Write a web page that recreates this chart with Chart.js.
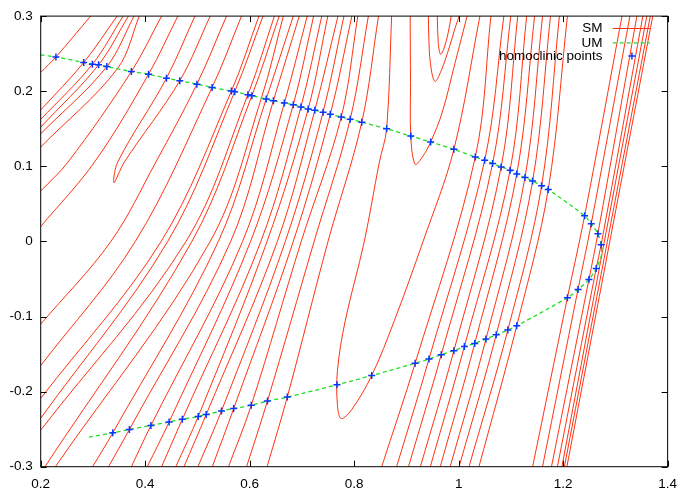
<!DOCTYPE html>
<html>
<head>
<meta charset="utf-8">
<script src="https://cdn.jsdelivr.net/npm/chart.js@4.4.0/dist/chart.umd.min.js"></script>
<style>
html, body { margin: 0; padding: 0; background: #fff; }
canvas { display: block; }
</style>
</head>
<body>
<canvas id="chart" width="686" height="489"></canvas>
<script>
const xTicks = [0.2, 0.4, 0.6, 0.8, 1.0, 1.2, 1.4];
const yTicks = [-0.3, -0.2, -0.1, 0, 0.1, 0.2, 0.3];

// stable manifold pieces, [x, y]
// curves that leave through the left edge (upper part)
const smEdge = [
	[[0.2,0.2249],[0.2291,0.2456],[0.2956,0.3]],
	[[0.2,0.1750],[0.2823,0.2381],[0.3462,0.3]],
	[[0.2,0.1623],[0.2989,0.2359],[0.3578,0.3]],
	[[0.2,0.1521],[0.3108,0.2351],[0.3679,0.3]],
	[[0.2,0.1433],[0.3266,0.2328],[0.3787,0.3]],
	[[0.2,0.1257],[0.3470,0.2302],[0.3888,0.3]],
	[[0.2,0.0671],[0.2525,0.1058],[0.3736,0.2262],[0.4314,0.3]],
	[[0.2,0.0198],[0.3032,0.1058],[0.4065,0.2226],[0.4625,0.3]],
	[[0.2,-0.1102],[0.3344,0],[0.4205,0.1058],[0.4990,0.2094],[0.5557,0.3]]
];

// hairpins and folds
const smFolds = [
	[[0.4952,0.3],[0.4407,0.2173],[0.3475,0.1058],[0.3403,0.0780],[0.3603,0.1058],[0.4662,0.2139],[0.5245,0.3]],
	[[0.9420,0.3],[0.9429,0.2712],[0.9458,0.2381],[0.9544,0.2130],[0.9667,0.2275],[0.9819,0.2579],[0.9933,0.2844],[1.0010,0.3]],
	[[0.9591,0.3],[0.9610,0.2646],[0.9654,0.2491],[0.9724,0.2579],[0.9800,0.2778],[0.9857,0.3]],
	[[0.9072,0.3],[0.9078,0.2116],[0.9084,0.1402],[0.9167,0.1028],[0.9306,0.1124],[0.9464,0.1323],[0.9686,0.1720],[0.9933,0.2381],[1.0162,0.3]],
	[[0.8717,0.3],[0.8622,0.1499],[0.8483,0.1058],[0.8194,0],[0.7829,-0.1058],[0.7680,-0.1720],[0.7680,-0.2183],[0.7753,-0.2359],[0.7956,-0.2236],[0.8336,-0.1786],[0.8768,-0.1058],[0.9319,0],[0.9909,0.1226],[1.0407,0.3]]
];

// the long fan crossing the middle-left
const smLeftFan = [
	[[0.2,-0.1654],[0.3812,0],[0.5281,0.2050],[0.5844,0.3]],
	[[0.2,-0.2090],[0.4306,0],[0.5650,0.2001],[0.6177,0.3]],
	[[0.2,-0.2355],[0.4432,0],[0.5713,0.1993],[0.6255,0.3]],
	[[0.2,-0.2513],[0.4781,0],[0.5966,0.1954],[0.6473,0.3]],
	[[0.2082,-0.3],[0.4895,0],[0.6042,0.1941],[0.6565,0.3]],
	[[0.2281,-0.3],[0.5245,0],[0.6226,0.1911],[0.6644,0.3]],
	[[0.2994,-0.3],[0.3380,-0.2549],[0.5401,0],[0.6316,0.1896],[0.6835,0.3]],
	[[0.3298,-0.3],[0.3698,-0.2504],[0.5637,0],[0.6454,0.1874],[0.6949,0.3]],
	[[0.3736,-0.3],[0.4110,-0.2451],[0.5865,0],[0.6664,0.1843],[0.7101,0.3]],
	[[0.4040,-0.3],[0.4458,-0.2404],[0.6017,0],[0.6835,0.1821],[0.7224,0.3]],
	[[0.4314,-0.3],[0.4711,-0.2368],[0.6215,0],[0.6981,0.1790],[0.7380,0.3]],
	[[0.4586,-0.3],[0.5015,-0.2332],[0.6333,0],[0.7120,0.1763],[0.7496,0.3]],
	[[0.4743,-0.3],[0.5167,-0.2306],[0.6530,0],[0.7247,0.1746],[0.7690,0.3]],
	[[0.5009,-0.3],[0.5460,-0.2258],[0.6682,0],[0.7405,0.1720],[0.7804,0.3]],
	[[0.5285,-0.3],[0.5694,-0.2226],[0.6835,0],[0.7544,0.1693],[0.7956,0.3]],
	[[0.5595,-0.3],[0.6030,-0.2183],[0.6987,0],[0.7753,0.1657],[0.8070,0.3]],
	[[0.5941,-0.3],[0.6340,-0.2126],[0.7234,0],[0.7924,0.1627],[0.8272,0.3]],
	[[0.6333,-0.3],[0.6720,-0.2073],[0.7500,0],[0.8146,0.1587],[0.8466,0.3]]
];

// fan right of the fold
const smRightFan = [
	[[0.8527,-0.3],[0.9167,-0.1623],[1.0319,0.1124],[1.0618,0.3]],
	[[0.8812,-0.3],[0.9433,-0.1565],[1.0498,0.1081],[1.0865,0.3]],
	[[0.9040,-0.3],[0.9667,-0.1508],[1.0650,0.1036],[1.0998,0.3]],
	[[0.9268,-0.3],[0.9909,-0.1455],[1.0814,0.0992],[1.1131,0.3]],
	[[0.9458,-0.3],[1.0110,-0.1398],[1.0985,0.0948],[1.1302,0.3]],
	[[0.9648,-0.3],[1.0308,-0.1358],[1.1112,0.0896],[1.1454,0.3]],
	[[0.9838,-0.3],[1.0523,-0.1300],[1.1270,0.0851],[1.1606,0.3]],
	[[1.0009,-0.3],[1.0719,-0.1243],[1.1416,0.0803],[1.1758,0.3]],
	[[1.0199,-0.3],[1.0941,-0.1181],[1.1588,0.0741],[1.1929,0.3]],
	[[1.0389,-0.3],[1.1112,-0.1124],[1.1715,0.0692],[1.2082,0.3]]
];

// tight bundle on the right
const smRightCluster = [
	[[1.1416,-0.3],[1.2082,-0.0750],[1.2411,0.0340],[1.3127,0.3]],
	[[1.1606,-0.3],[1.2285,-0.0639],[1.2538,0.0234],[1.3279,0.3]],
	[[1.1777,-0.3],[1.2494,-0.0507],[1.2665,0.0102],[1.3412,0.3]],
	[[1.1891,-0.3],[1.2633,-0.0361],[1.2728,-0.0044],[1.3526,0.3]],
	[[1.1977,-0.3],[1.3602,0.3]],
	[[1.2025,-0.3],[1.3669,0.3]],
	[[1.2072,-0.3],[1.3716,0.3]]
];

// unstable manifold
const umCurve = [
	[0.2,0.2483],[0.2291,0.2456],[0.2823,0.2381],[0.2989,0.2359],[0.3108,0.2351],[0.3266,0.2328],
	[0.3736,0.2262],[0.4065,0.2226],[0.4407,0.2173],[0.4662,0.2139],[0.4990,0.2094],[0.5281,0.2050],
	[0.5650,0.2001],[0.5713,0.1993],[0.5966,0.1954],[0.6042,0.1941],[0.6316,0.1896],[0.6454,0.1874],
	[0.6664,0.1843],[0.6835,0.1821],[0.6981,0.1790],[0.7120,0.1763],[0.7247,0.1746],[0.7405,0.1720],
	[0.7544,0.1693],[0.7753,0.1657],[0.7924,0.1627],[0.8146,0.1587],[0.8622,0.1499],[0.9084,0.1402],
	[0.9464,0.1323],[0.9909,0.1226],[1.0319,0.1124],[1.0498,0.1081],[1.0650,0.1036],[1.0814,0.0992],
	[1.0985,0.0948],[1.1112,0.0896],[1.1270,0.0851],[1.1416,0.0803],[1.1588,0.0741],[1.1715,0.0692],
	[1.2411,0.0340],[1.2538,0.0234],[1.2665,0.0102],[1.2728,-0.0044],[1.2737,-0.0172],[1.2633,-0.0361],
	[1.2494,-0.0507],[1.2285,-0.0639],[1.2082,-0.0750],[1.1112,-0.1124],[1.0941,-0.1181],[1.0719,-0.1243],
	[1.0523,-0.1300],[1.0308,-0.1358],[1.0110,-0.1398],[0.9909,-0.1455],[0.9667,-0.1508],[0.9433,-0.1565],
	[0.9167,-0.1623],[0.8336,-0.1786],[0.7671,-0.1909],[0.6720,-0.2073],[0.6340,-0.2126],[0.6030,-0.2183],
	[0.5694,-0.2226],[0.5460,-0.2258],[0.5167,-0.2306],[0.5015,-0.2332],[0.4711,-0.2368],[0.4458,-0.2404],
	[0.4110,-0.2451],[0.3698,-0.2504],[0.3380,-0.2549],[0.2886,-0.2610]
];

// homoclinic points
const homoclinic = [
	[0.2291,0.2456],[0.2823,0.2381],[0.2989,0.2359],[0.3108,0.2351],[0.3266,0.2328],[0.3736,0.2262],
	[0.4065,0.2226],[0.4407,0.2173],[0.4662,0.2139],[0.4990,0.2094],[0.5281,0.2050],[0.5650,0.2001],
	[0.5713,0.1993],[0.5966,0.1954],[0.6042,0.1941],[0.6316,0.1896],[0.6454,0.1874],[0.6664,0.1843],
	[0.6835,0.1821],[0.6981,0.1790],[0.7120,0.1763],[0.7247,0.1746],[0.7405,0.1720],[0.7544,0.1693],
	[0.7753,0.1657],[0.7924,0.1627],[0.8146,0.1587],[0.8622,0.1499],[0.9084,0.1402],[0.9464,0.1323],
	[0.9909,0.1226],[1.0319,0.1124],[1.0498,0.1081],[1.0650,0.1036],[1.0814,0.0992],[1.0985,0.0948],
	[1.1112,0.0896],[1.1270,0.0851],[1.1416,0.0803],[1.1588,0.0741],[1.1715,0.0692],
	[1.2411,0.0340],[1.2538,0.0234],[1.2665,0.0102],[1.2728,-0.0044],[1.2633,-0.0361],[1.2494,-0.0507],
	[1.2285,-0.0639],[1.2082,-0.0750],
	[1.1112,-0.1124],[1.0941,-0.1181],[1.0719,-0.1243],[1.0523,-0.1300],[1.0308,-0.1358],[1.0110,-0.1398],
	[0.9909,-0.1455],[0.9667,-0.1508],[0.9433,-0.1565],[0.9167,-0.1623],[0.8336,-0.1786],[0.7671,-0.1909],
	[0.6720,-0.2073],[0.6340,-0.2126],[0.6030,-0.2183],[0.5694,-0.2226],[0.5460,-0.2258],[0.5167,-0.2306],
	[0.5015,-0.2332],[0.4711,-0.2368],[0.4458,-0.2404],[0.4110,-0.2451],[0.3698,-0.2504],[0.3380,-0.2549]
];

const SM_COLOR = '#ff3212';
const UM_COLOR = '#22dd22';
const PT_COLOR = '#0a35ff';
const FONT = '"Liberation Sans", Arial, Helvetica, sans-serif';

const toXY = pts => pts.map(p => ({ x: p[0], y: p[1] }));

const smCurves = [].concat(smEdge, smFolds, smLeftFan, smRightFan, smRightCluster);
const smSets = smCurves.map(c => ({
	data: toXY(c),
	showLine: true,
	borderColor: SM_COLOR,
	borderWidth: 1,
	pointRadius: 0,
	tension: 0.35,
	clip: 0,
	order: 3
}));

// frame with inward ticks on all four sides
const frame = {
	id: 'frame',
	afterDatasetsDraw(chart) {
		const { ctx, chartArea: a, scales: { x, y } } = chart;
		ctx.save();
		ctx.strokeStyle = '#000';
		ctx.lineWidth = 1;
		ctx.beginPath();
		xTicks.forEach(v => {
			const px = Math.round(x.getPixelForValue(v)) + 0.5;
			ctx.moveTo(px, a.bottom); ctx.lineTo(px, a.bottom - 6);
			ctx.moveTo(px, a.top); ctx.lineTo(px, a.top + 6);
		});
		yTicks.forEach(v => {
			const py = Math.round(y.getPixelForValue(v)) + 0.5;
			ctx.moveTo(a.left, py); ctx.lineTo(a.left + 6, py);
			ctx.moveTo(a.right, py); ctx.lineTo(a.right - 6, py);
		});
		ctx.stroke();
		ctx.strokeRect(a.left, a.top, a.right - a.left, a.bottom - a.top);
		ctx.restore();
	}
};

// gnuplot style key in the top right corner
const key = {
	id: 'key',
	afterDraw(chart) {
		const { ctx, chartArea: a } = chart;
		const textX = a.right - 65, x0 = a.right - 55, x1 = a.right - 17.7;
		ctx.save();
		ctx.font = '13.5px ' + FONT;
		ctx.fillStyle = '#000';
		ctx.textAlign = 'right';
		ctx.textBaseline = 'middle';
		let yy = a.top + 12.4;
		ctx.fillText('SM', textX, yy);
		ctx.strokeStyle = SM_COLOR; ctx.lineWidth = 1;
		ctx.beginPath(); ctx.moveTo(x0, yy); ctx.lineTo(x1, yy); ctx.stroke();
		yy = a.top + 26.7;
		ctx.fillText('UM', textX, yy);
		ctx.strokeStyle = UM_COLOR; ctx.lineWidth = 1.3; ctx.setLineDash([4, 3]);
		ctx.beginPath(); ctx.moveTo(x0, yy); ctx.lineTo(x1, yy); ctx.stroke();
		ctx.setLineDash([]);
		yy = a.top + 40;
		ctx.fillText('homoclinic points', textX, yy);
		const cx = a.right - 35.7;
		ctx.strokeStyle = PT_COLOR; ctx.lineWidth = 1.5;
		ctx.beginPath();
		ctx.moveTo(cx - 3.5, yy); ctx.lineTo(cx + 3.5, yy);
		ctx.moveTo(cx, yy - 3.5); ctx.lineTo(cx, yy + 3.5);
		ctx.stroke();
		ctx.restore();
	}
};

new Chart(document.getElementById('chart'), {
	type: 'scatter',
	data: {
		datasets: [
			{
				data: toXY(homoclinic),
				pointStyle: 'cross',
				pointRadius: 3.5,
				borderColor: PT_COLOR,
				borderWidth: 1.5,
				showLine: false,
				clip: 0,
				order: 1
			},
			{
				data: toXY(umCurve),
				showLine: true,
				borderColor: UM_COLOR,
				borderWidth: 1.3,
				borderDash: [4, 3],
				pointRadius: 0,
				tension: 0.3,
				clip: 0,
				order: 2
			}
		].concat(smSets)
	},
	options: {
		responsive: false,
		devicePixelRatio: 1,
		animation: false,
		events: [],
		layout: { padding: { left: 0, top: 13.3, right: 14.3, bottom: 0 } },
		plugins: { legend: { display: false }, tooltip: { enabled: false } },
		scales: {
			x: {
				type: 'linear',
				min: 0.2, max: 1.4,
				afterBuildTicks: s => { s.ticks = xTicks.map(v => ({ value: v })); },
				afterFit: s => { s.height = 22.3; },
				grid: { display: false, drawTicks: false },
				border: { display: false },
				ticks: { color: '#000', padding: 9, maxRotation: 0, font: { family: FONT, size: 13.5 }, callback: v => String(v) }
			},
			y: {
				type: 'linear',
				min: -0.3, max: 0.3,
				afterBuildTicks: s => { s.ticks = yTicks.map(v => ({ value: v })); },
				afterFit: s => { s.width = 40.7; },
				grid: { display: false, drawTicks: false },
				border: { display: false },
				ticks: { color: '#000', padding: 8, font: { family: FONT, size: 13.5 }, callback: v => String(v) }
			}
		}
	},
	plugins: [frame, key]
});
</script>
</body>
</html>
